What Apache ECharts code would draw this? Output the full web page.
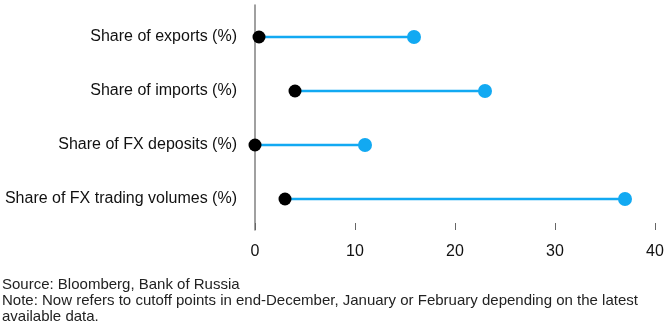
<!DOCTYPE html>
<html>
<head>
<meta charset="utf-8">
<script src="https://cdn.jsdelivr.net/npm/echarts@6/dist/echarts.min.js"></script>
<style>
  html, body { margin: 0; padding: 0; background: #fff; }
  #chart { width: 671px; height: 331px; }
</style>
</head>
<body>
<div id="chart"></div>
<script>
// ---- Data ----
var categories = ['Share of exports (%)', 'Share of imports (%)', 'Share of FX deposits (%)', 'Share of FX trading volumes (%)'];
var thenValues = [0.4, 4.0, 0.0, 3.0];
var nowValues = [15.9, 23.0, 11.0, 37.0];
var xTicks = [0, 10, 20, 30, 40];
var footerLines = [
  'Source: Bloomberg, Bank of Russia',
  'Note: Now refers to cutoff points in end-December, January or February depending on the latest',
  'available data.'
];

var FONT = '"Liberation Sans", Arial, sans-serif';
var BLUE = '#12a9f2';

var chart = echarts.init(document.getElementById('chart'), null, { renderer: 'canvas' });

var segData = categories.map(function (c, i) { return [thenValues[i], nowValues[i], i]; });
var nowData = categories.map(function (c, i) { return [nowValues[i], c]; });
var thenData = categories.map(function (c, i) { return [thenValues[i], c]; });

chart.setOption({
  animation: false,
  backgroundColor: '#ffffff',
  title: {
    text: footerLines.join('\n'),
    left: 2,
    top: 277,
    padding: 0,
    textStyle: { fontFamily: FONT, fontSize: 15, fontWeight: 'normal', color: '#222', lineHeight: 16 }
  },
  grid: [
    { left: 255, right: 16, top: 10, height: 216, containLabel: false },
    { left: 255, right: 16, top: 5, height: 225, containLabel: false }
  ],
  xAxis: [
    {
      gridIndex: 0, type: 'value', min: xTicks[0], max: xTicks[xTicks.length - 1], interval: 10,
      offset: -3,
      axisLine: { show: false },
      axisTick: { show: true, length: 7, lineStyle: { color: '#666', width: 1 } },
      splitLine: { show: false },
      axisLabel: { fontFamily: FONT, fontSize: 16, color: '#111', margin: 21 }
    },
    {
      gridIndex: 1, type: 'value', min: 0, max: 40, show: false
    }
  ],
  yAxis: [
    {
      gridIndex: 0, type: 'category', data: categories, inverse: true,
      axisLine: { show: false },
      axisTick: { show: false },
      axisLabel: { fontFamily: FONT, fontSize: 16, color: '#111', margin: 18 }
    },
    {
      gridIndex: 1, type: 'category', data: categories, inverse: true,
      axisLine: { show: true, onZero: false, lineStyle: { color: '#808080', width: 1.5 } },
      axisTick: { show: false },
      axisLabel: { show: false }
    }
  ],
  series: [
    {
      type: 'custom',
      xAxisIndex: 0, yAxisIndex: 0,
      data: segData,
      renderItem: function (params, api) {
        var p1 = api.coord([api.value(0), api.value(2)]);
        var p2 = api.coord([api.value(1), api.value(2)]);
        return {
          type: 'line',
          shape: { x1: p1[0], y1: p1[1], x2: p2[0], y2: p2[1] },
          style: { stroke: BLUE, lineWidth: 2.5 }
        };
      },
      z: 2
    },
    {
      type: 'scatter', xAxisIndex: 0, yAxisIndex: 0,
      data: nowData, symbol: 'circle', symbolSize: 14,
      itemStyle: { color: BLUE, opacity: 1 }, z: 3
    },
    {
      type: 'scatter', xAxisIndex: 0, yAxisIndex: 0,
      data: thenData, symbol: 'circle', symbolSize: 13,
      itemStyle: { color: '#000', opacity: 1 }, z: 4
    }
  ]
});
</script>
</body>
</html>
